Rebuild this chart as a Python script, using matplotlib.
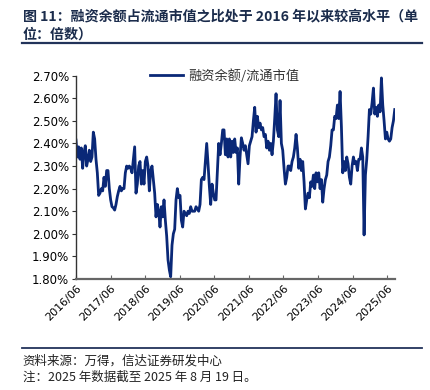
import matplotlib
matplotlib.use("Agg")
import matplotlib.pyplot as plt
import pandas as pd

plt.rcParams['font.family'] = ['Noto Sans CJK SC', 'DejaVu Sans']

title_text = "图 11：融资余额占流通市值之比处于 2016 年以来较高水平（单\n位：倍数）"
series_name = "融资余额/流通市值"
source_text = "资料来源：万得，信达证券研发中心"
note_text = "注：2025 年数据截至 2025 年 8 月 19 日。"

start_date = "2016-06-01"
end_date = "2025-08-19"

ratio_pct = [
    2.415, 2.34, 2.385, 2.33, 2.38, 2.29, 2.36, 2.39, 2.30, 2.33,
    2.37, 2.32, 2.34, 2.45, 2.42, 2.33, 2.27, 2.17, 2.18, 2.20,
    2.19, 2.25, 2.21, 2.28, 2.28, 2.20, 2.15, 2.12, 2.115, 2.105,
    2.13, 2.165, 2.19, 2.21, 2.19, 2.20, 2.20, 2.27, 2.30, 2.29,
    2.30, 2.29, 2.27, 2.33, 2.385, 2.18, 2.22, 2.30, 2.32, 2.22,
    2.28, 2.22, 2.32, 2.34, 2.30, 2.19, 2.28, 2.30, 2.24, 2.18,
    2.075, 2.13, 2.10, 2.03, 2.12, 2.075, 2.15, 2.06, 1.99, 1.885,
    1.84, 1.81, 1.95, 2.00, 2.02, 2.15, 2.20, 2.16, 2.17, 2.06,
    2.03, 2.10, 2.09, 2.08, 2.10, 2.09, 2.12, 2.10, 2.10, 2.10,
    2.12, 2.11, 2.10, 2.13, 2.24, 2.25, 2.24, 2.32, 2.40, 2.31,
    2.21, 2.13, 2.22, 2.18, 2.15, 2.15, 2.28, 2.40, 2.35, 2.40,
    2.46, 2.46, 2.35, 2.42, 2.34, 2.42, 2.34, 2.41, 2.36, 2.42,
    2.36, 2.38, 2.22, 2.34, 2.425, 2.40, 2.37, 2.39, 2.35, 2.31,
    2.39, 2.41, 2.43, 2.50, 2.56, 2.45, 2.52, 2.47, 2.49, 2.46,
    2.47, 2.43, 2.44, 2.38, 2.41, 2.37, 2.40, 2.35, 2.41, 2.51,
    2.62, 2.46, 2.43, 2.59, 2.40, 2.37, 2.29, 2.22, 2.25, 2.30,
    2.30, 2.28, 2.32, 2.34, 2.38, 2.44, 2.38, 2.29, 2.33, 2.28,
    2.32, 2.23, 2.11, 2.15, 2.18, 2.16, 2.23, 2.21, 2.26, 2.20,
    2.27, 2.23, 2.27, 2.20, 2.24, 2.14, 2.20, 2.24, 2.26, 2.32,
    2.34, 2.39, 2.46, 2.46, 2.52, 2.51, 2.57, 2.51, 2.63, 2.475,
    2.27, 2.32, 2.28, 2.34, 2.31, 2.25, 2.22, 2.30, 2.34, 2.31,
    2.32, 2.28, 2.33, 2.33, 2.38, 2.34, 1.995, 2.26, 2.33, 2.43,
    2.55, 2.53, 2.58, 2.645, 2.53, 2.56, 2.52, 2.57, 2.54, 2.69,
    2.57, 2.50, 2.42, 2.45, 2.42, 2.41, 2.42, 2.47, 2.50, 2.55,
]

y_ticks = [1.80, 1.90, 2.00, 2.10, 2.20, 2.30, 2.40, 2.50, 2.60, 2.70]
x_tick_years = list(range(2016, 2026))

dates = pd.date_range(start=start_date, end=end_date, periods=len(ratio_pct))

fig = plt.figure(figsize=(4.3, 3.9), dpi=100)
ax = fig.add_axes([0.1767, 0.2846, 0.742, 0.5214])

line_color = '#0a2877'
ax.plot(dates, ratio_pct, color=line_color, lw=2.0, label=series_name)

ax.set_ylim(1.80, 2.70)
ax.set_yticks(y_ticks)
ax.set_yticklabels([f"{v:.2f}%" for v in y_ticks], fontsize=8.5,
                   family=['DejaVu Sans'])
ax.set_xlim(pd.Timestamp(start_date), pd.Timestamp("2025-08-22"))
xt = [pd.Timestamp(f"{y}-06-01") for y in x_tick_years]
ax.set_xticks(xt)
ax.set_xticklabels([f"{y}/06" for y in x_tick_years], rotation=45,
                   ha='right', rotation_mode='anchor', fontsize=8,
                   family=['DejaVu Sans'])

for s in ['top', 'right']:
    ax.spines[s].set_visible(False)
ax.spines['left'].set_color('#333333')
ax.spines['left'].set_linewidth(1.0)
ax.spines['bottom'].set_color('#666666')
ax.spines['bottom'].set_linewidth(1.6)
ax.tick_params(axis='y', direction='out', length=3, color='#333333', pad=2)
ax.tick_params(axis='x', direction='in', length=3, color='#666666', pad=3)

leg = ax.legend(loc='upper center', bbox_to_anchor=(0.467, 1.09), frameon=False,
                fontsize=9.5, handlelength=2.5, handletextpad=0.4)
for t in leg.get_texts():
    t.set_color('#333333')

title_color = '#1b2c4c'
fig.text(0.053, 0.975, title_text, fontsize=10.1, fontweight='bold',
         color=title_color, va='top', ha='left', linespacing=1.35)
fig.add_artist(plt.Line2D([0.051, 0.981], [0.889, 0.889], color='#22335a', lw=1.6))
fig.add_artist(plt.Line2D([0.051, 0.981], [0.108, 0.108], color='#22335a', lw=1.3))
fig.text(0.053, 0.074, source_text, fontsize=9, color='#222222', va='center', ha='left')
fig.text(0.053, 0.032, note_text, fontsize=9, color='#222222', va='center', ha='left')

fig.savefig("out.png", dpi=100)
